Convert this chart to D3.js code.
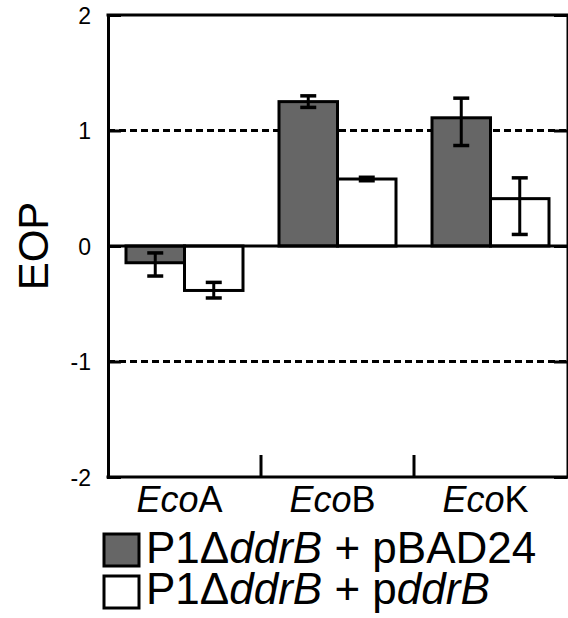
<!DOCTYPE html>
<html>
<head>
<meta charset="utf-8">
<script src="https://cdn.jsdelivr.net/npm/d3@7"></script>
<style>
  body { margin: 0; background: #fff; }
  svg { display: block; font-family: "Liberation Sans", Arial, sans-serif; }
</style>
</head>
<body>
<div id="chart"></div>
<script>
// data
var categories = ["EcoA", "EcoB", "EcoK"];
var seriesNames = ["pBAD24", "pddrB"];
var pbadValues = [-0.145, 1.25, 1.11];
var pbadLow = [-0.26, 1.20, 0.87];
var pbadHigh = [-0.06, 1.30, 1.28];
var pddrbValues = [-0.385, 0.58, 0.41];
var pddrbLow = [-0.45, 0.565, 0.10];
var pddrbHigh = [-0.315, 0.595, 0.59];
var yTicks = [-2, -1, 0, 1, 2];
var refLines = [-1, 1];

var svgWidth = 568, svgHeight = 618;
var plotLeft = 108, plotRight = 567, plotTop = 15, plotBottom = 477;
var fills = {"pBAD24": "#666666", "pddrB": "#ffffff"};

var svg = d3.select("#chart")
  .append("svg")
  .attr("width", svgWidth)
  .attr("height", svgHeight);

var x0 = d3.scaleBand()
  .domain(categories)
  .range([plotLeft, plotRight]);

var x1 = d3.scaleBand()
  .domain(seriesNames)
  .range([18, x0.bandwidth() - 18]);

var y = d3.scaleLinear()
  .domain([-2, 2])
  .range([plotBottom, plotTop]);

// build rows
var rows = [];
categories.forEach(function(c, i) {
  rows.push({cat: c, s: "pBAD24", v: pbadValues[i], lo: pbadLow[i], hi: pbadHigh[i]});
  rows.push({cat: c, s: "pddrB", v: pddrbValues[i], lo: pddrbLow[i], hi: pddrbHigh[i]});
});

// dashed reference lines
svg.selectAll(".ref")
  .data(refLines)
  .enter().append("line")
  .attr("x1", plotLeft).attr("x2", plotRight)
  .attr("y1", d => y(d)).attr("y2", d => y(d))
  .attr("stroke", "#000")
  .attr("stroke-width", 3)
  .attr("stroke-dasharray", "7,4");

// bars
svg.selectAll(".bar")
  .data(rows)
  .enter().append("rect")
  .attr("x", d => x0(d.cat) + x1(d.s))
  .attr("y", d => y(Math.max(0, d.v)))
  .attr("width", x1.bandwidth())
  .attr("height", d => Math.abs(y(d.v) - y(0)))
  .attr("fill", d => fills[d.s])
  .attr("stroke", "#000")
  .attr("stroke-width", 3);

// zero line
svg.append("line")
  .attr("x1", plotLeft).attr("x2", plotRight)
  .attr("y1", y(0)).attr("y2", y(0))
  .attr("stroke", "#000")
  .attr("stroke-width", 3);

// error bars
var err = svg.selectAll(".err")
  .data(rows)
  .enter().append("g")
  .attr("transform", d => "translate(" + (x0(d.cat) + x1(d.s) + x1.bandwidth() / 2) + ",0)");

err.append("line")
  .attr("y1", d => y(d.lo)).attr("y2", d => y(d.hi))
  .attr("stroke", "#000").attr("stroke-width", 3);
err.append("line")
  .attr("x1", -8).attr("x2", 8)
  .attr("y1", d => y(d.lo)).attr("y2", d => y(d.lo))
  .attr("stroke", "#000").attr("stroke-width", 3.5);
err.append("line")
  .attr("x1", -8).attr("x2", 8)
  .attr("y1", d => y(d.hi)).attr("y2", d => y(d.hi))
  .attr("stroke", "#000").attr("stroke-width", 3.5);

// left axis
var yAxis = svg.append("g")
  .attr("transform", "translate(" + plotLeft + ",0)")
  .call(d3.axisLeft(y).tickValues(yTicks).tickSize(-13).tickPadding(17).tickFormat(d => String(d)));
yAxis.select(".domain").attr("stroke-width", 3);
yAxis.selectAll(".tick line").attr("stroke-width", 3);
yAxis.selectAll("text").attr("font-size", 23).attr("font-family", "Liberation Sans, Arial, sans-serif").attr("dy", "0.36em");

// right axis
var yAxisR = svg.append("g")
  .attr("transform", "translate(" + plotRight + ",0)")
  .call(d3.axisRight(y).tickValues(yTicks).tickSize(-13).tickFormat(""));
yAxisR.select(".domain").attr("stroke-width", 2);
yAxisR.selectAll(".tick line").attr("stroke-width", 3);

// top frame
svg.append("line")
  .attr("x1", plotLeft - 1.5).attr("x2", plotRight + 1)
  .attr("y1", plotTop).attr("y2", plotTop)
  .attr("stroke", "#000").attr("stroke-width", 3);

// bottom axis
svg.append("line")
  .attr("x1", plotLeft - 1.5).attr("x2", plotRight + 1)
  .attr("y1", plotBottom).attr("y2", plotBottom)
  .attr("stroke", "#000").attr("stroke-width", 3);
svg.selectAll(".ctick")
  .data(categories.slice(1))
  .enter().append("line")
  .attr("x1", d => x0(d)).attr("x2", d => x0(d))
  .attr("y1", plotBottom).attr("y2", plotBottom - 22)
  .attr("stroke", "#000").attr("stroke-width", 3);

// category labels
var catLabel = svg.selectAll(".cat")
  .data(categories)
  .enter().append("text")
  .attr("x", d => x0(d) + x0.bandwidth() / 2 - 5)
  .attr("y", 512)
  .attr("text-anchor", "middle")
  .attr("font-size", 36);
catLabel.append("tspan").attr("font-style", "italic").text(d => d.slice(0, 3));
catLabel.append("tspan").text(d => d.slice(3));

// y title
svg.append("text")
  .attr("transform", "translate(48,246) rotate(-90)")
  .attr("text-anchor", "middle")
  .attr("font-size", 42)
  .text("EOP");

// legend
var legend = [
  {s: "pBAD24", y: 534, base: 563, parts: [["P1\u0394", false], ["ddrB", true], [" + pBAD24", false]]},
  {s: "pddrB", y: 576, base: 604, parts: [["P1\u0394", false], ["ddrB", true], [" + p", false], ["ddrB", true]]}
];
legend.forEach(function(l) {
  svg.append("rect")
    .attr("x", 104).attr("y", l.y)
    .attr("width", 35).attr("height", 32)
    .attr("fill", fills[l.s])
    .attr("stroke", "#000")
    .attr("stroke-width", 3);
  var t = svg.append("text")
    .attr("x", 146).attr("y", l.base)
    .attr("font-size", 44)
    .attr("xml:space", "preserve");
  l.parts.forEach(function(p) {
    t.append("tspan").attr("font-style", p[1] ? "italic" : "normal").text(p[0]);
  });
});
</script>
</body>
</html>
